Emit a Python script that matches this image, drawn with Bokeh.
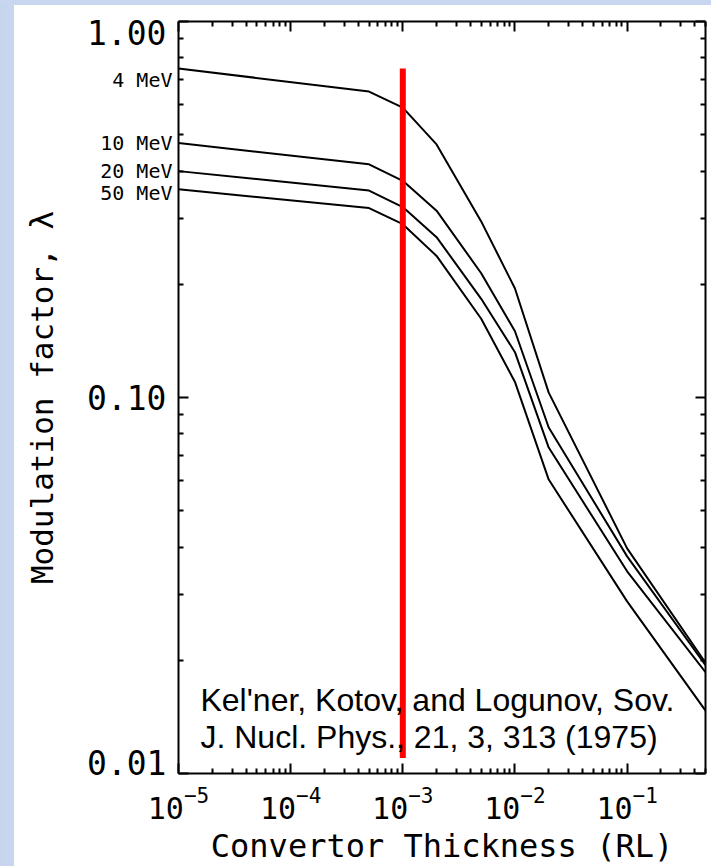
from bokeh.plotting import figure
from bokeh.models import (LogAxis, FixedTicker, LogTickFormatter, CustomJSTickFormatter,
                          Label, Range1d)
from bokeh.embed import file_html
from bokeh.resources import INLINE

# ---- data ----
thickness = [1e-5, 5e-4, 1e-3, 2e-3, 5e-3, 1e-2, 2e-2, 1e-1, 5e-1]
lam_4mev = [0.750, 0.651, 0.590, 0.471, 0.294, 0.195, 0.103, 0.0397, 0.0197]
lam_10mev = [0.475, 0.417, 0.377, 0.314, 0.214, 0.150, 0.0832, 0.0378, 0.0194]
lam_20mev = [0.400, 0.355, 0.321, 0.267, 0.183, 0.132, 0.0736, 0.0345, 0.0186]
lam_50mev = [0.358, 0.319, 0.289, 0.238, 0.162, 0.110, 0.0605, 0.0287, 0.0147]
energy_labels = ["4 MeV", "10 MeV", "20 MeV", "50 MeV"]
energy_label_at = [0.70, 0.475, 0.40, 0.35]

marker_thickness = 1e-3
marker_lam = [0.011, 0.75]

x_ticks = [1e-5, 1e-4, 1e-3, 1e-2, 1e-1]
y_ticks = [0.01, 0.1, 1.0]
y_tick_labels = ["0.01", "0.10", "1.00"]
y_tick_label_at = [0.0107, 0.1, 0.935]
citation = ["Kel'ner, Kotov, and Logunov, Sov.", "J. Nucl. Phys., 21, 3, 313 (1975)"]
cite_at = [(1.57e-5, 0.01573), (1.57e-5, 0.01247)]

x_minor = [m * 10.0 ** e for e in range(-5, 0) for m in range(2, 10) if m * 10.0 ** e <= 0.5]
y_minor = [m * 10.0 ** e for e in range(-2, 0) for m in range(2, 10)]

MONO = "DejaVu Sans Mono"

NEAREST = """
let best = 0, bd = 1e9;
for (let i = 0; i < vals.length; i++) {
  const d = Math.abs(Math.log(vals[i]) - Math.log(tick));
  if (d < bd) { bd = d; best = i; }
}
return labels[best];"""

p = figure(x_axis_type="log", y_axis_type="log",
           x_range=Range1d(1e-5, 0.5), y_range=Range1d(0.01, 1.0),
           frame_width=527, frame_height=752,
           min_border_left=178, min_border_right=6, min_border_top=21, min_border_bottom=93,
           output_backend="svg", toolbar_location=None,
           background_fill_color="white", border_fill_color=None)
p.styles = {"background": "linear-gradient(to bottom, #c9d6ef 0px, #c9d6ef 5px, rgba(255,255,255,0) 5px), "
                          "linear-gradient(to right, #c6d4ee 0px, #c9d6ef 14px, #ffffff 14px)"}
p.outline_line_color = None
p.grid.visible = False


def style_axis(ax):
    ax.axis_line_width = 2
    ax.axis_line_color = "black"
    ax.major_tick_in = 10
    ax.major_tick_out = 0
    ax.minor_tick_in = 5
    ax.minor_tick_out = 0
    ax.major_tick_line_width = 2
    ax.minor_tick_line_width = 2
    ax.major_tick_line_color = "black"
    ax.minor_tick_line_color = "black"


def bare_axis(ax):
    ax.axis_line_color = None
    ax.major_tick_line_color = None
    ax.minor_tick_line_color = None
    ax.major_tick_in = 0
    ax.major_tick_out = 0
    ax.minor_tick_in = 0
    ax.minor_tick_out = 0


# bottom axis
xa = p.xaxis[0]
xa.ticker = FixedTicker(ticks=x_ticks, minor_ticks=x_minor)
xa.formatter = LogTickFormatter()
style_axis(xa)
xa.major_label_text_font = MONO
xa.major_label_text_font_size = "30px"
xa.major_label_text_color = "black"
xa.major_label_standoff = 12
xa.axis_label = "Convertor Thickness (RL)"
xa.axis_label_text_font = MONO
xa.axis_label_text_font_size = "32px"
xa.axis_label_text_font_style = "normal"
xa.axis_label_text_color = "black"
xa.axis_label_standoff = 5

# left axis: ticks only (innermost)
ya = p.yaxis[0]
ya.ticker = FixedTicker(ticks=y_ticks, minor_ticks=y_minor)
ya.formatter = CustomJSTickFormatter(code="return ''")
ya.major_label_text_font_size = "0px"
ya.major_label_standoff = 0
style_axis(ya)

# energy labels next to the curve starts
mev_axis = LogAxis(ticker=FixedTicker(ticks=energy_label_at, minor_ticks=[]),
                   formatter=CustomJSTickFormatter(
                       args=dict(vals=energy_label_at, labels=energy_labels), code=NEAREST),
                   major_label_text_font=MONO, major_label_text_font_size="20px",
                   major_label_text_color="black", major_label_standoff=6)
bare_axis(mev_axis)
p.add_layout(mev_axis, "left")

# numeric tick labels + axis title (pulled back over the energy labels' column)
num_axis = LogAxis(ticker=FixedTicker(ticks=y_tick_label_at, minor_ticks=[]),
                   formatter=CustomJSTickFormatter(
                       args=dict(vals=y_tick_label_at, labels=y_tick_labels), code=NEAREST),
                   major_label_text_font=MONO, major_label_text_font_size="33px",
                   major_label_text_color="black", major_label_standoff=-69,
                   axis_label="Modulation factor, \u03bb", axis_label_text_font=MONO,
                   axis_label_text_font_size="31px", axis_label_text_font_style="normal",
                   axis_label_text_color="black", axis_label_standoff=24)
bare_axis(num_axis)
p.add_layout(num_axis, "left")

# top and right axes: ticks only
top = LogAxis(ticker=FixedTicker(ticks=x_ticks, minor_ticks=x_minor),
              formatter=CustomJSTickFormatter(code="return ''"),
              major_label_text_font_size="0px", major_label_standoff=0)
style_axis(top)
p.add_layout(top, "above")
right = LogAxis(ticker=FixedTicker(ticks=y_ticks, minor_ticks=y_minor),
                formatter=CustomJSTickFormatter(code="return ''"),
                major_label_text_font_size="0px", major_label_standoff=0)
style_axis(right)
p.add_layout(right, "right")

# curves
for lam in (lam_4mev, lam_10mev, lam_20mev, lam_50mev):
    p.line(thickness, lam, line_color="black", line_width=2)

# red marker line
p.line([marker_thickness, marker_thickness], marker_lam, line_color="#ff0000", line_width=6)

# citation
for (cx, cy), txt in zip(cite_at, citation):
    p.add_layout(Label(x=cx, y=cy, text=txt, text_align="left", text_baseline="alphabetic",
                       text_font="Liberation Sans", text_font_size="32px", text_color="black"))

open("out.html", "w").write(file_html(p, INLINE))
